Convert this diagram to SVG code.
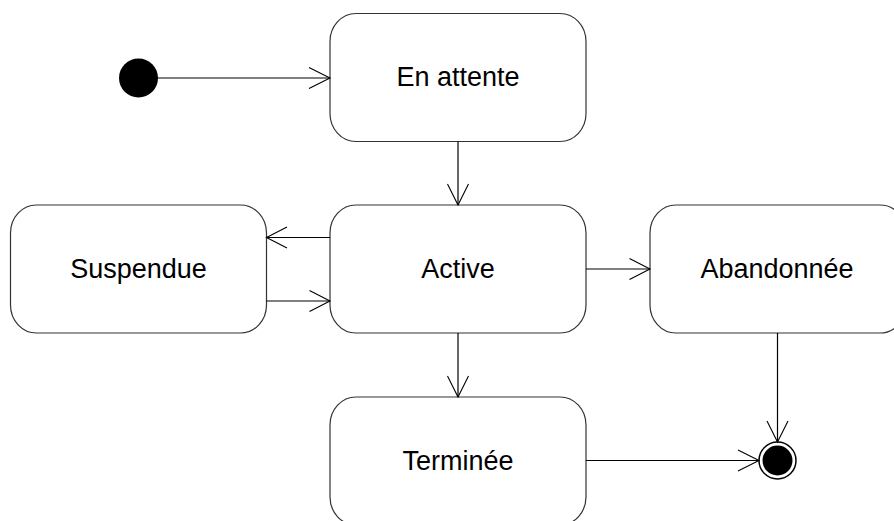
<svg xmlns="http://www.w3.org/2000/svg" width="894" height="521" viewBox="0 0 894 521">
<defs>
<style>
.st rect{fill:#fff;stroke:#333;stroke-width:1.2}
.st text{font-family:"Liberation Sans",Arial,sans-serif;font-size:27px;fill:#000;text-anchor:middle}
.cn line{stroke:#000;stroke-width:1.2;fill:none}
.cn polyline{stroke:#000;stroke-width:1.1;fill:none}
</style>
</defs>
<rect width="894" height="521" fill="#fff"/>
<g id="initial"><circle cx="138.5" cy="78" r="19.5" fill="#000"/></g>
<g id="en-attente" class="st"><rect x="330" y="13.5" width="256" height="128" rx="26" ry="28"/><text x="458" y="86">En attente</text></g>
<g id="suspendue" class="st"><rect x="10.5" y="205" width="256" height="128" rx="26" ry="28"/><text x="138.5" y="278">Suspendue</text></g>
<g id="active" class="st"><rect x="330" y="205" width="256" height="128" rx="26" ry="28"/><text x="458" y="278">Active</text></g>
<g id="abandonnee" class="st"><rect x="650" y="205" width="256" height="128" rx="26" ry="28"/><text x="777" y="278">Abandonnée</text></g>
<g id="terminee" class="st"><rect x="330" y="397" width="256" height="128" rx="26" ry="28"/><text x="458" y="470">Terminée</text></g>
<g id="final"><circle cx="777.5" cy="460.5" r="18.5" fill="#fff" stroke="#000" stroke-width="1.5"/><circle cx="777.5" cy="460.5" r="15" fill="#000"/></g>
<g id="connectors" class="cn">
<line x1="157" y1="78" x2="330" y2="78"/><polyline points="309,67.5 330,78 309,88.5"/>
<line x1="458" y1="141.5" x2="458" y2="205"/><polyline points="447.5,184 458,205 468.5,184"/>
<line x1="330" y1="237.5" x2="266.5" y2="237.5"/><polyline points="287,227 266.5,237.5 287,248"/>
<line x1="266.5" y1="301" x2="330" y2="301"/><polyline points="309.5,290.5 330,301 309.5,311.5"/>
<line x1="586" y1="269" x2="650" y2="269"/><polyline points="629.5,258.5 650,269 629.5,279.5"/>
<line x1="458" y1="333" x2="458" y2="397"/><polyline points="447.5,376 458,397 468.5,376"/>
<line x1="586" y1="460.5" x2="759" y2="460.5"/><polyline points="738,450 759,460.5 738,471"/>
<line x1="777.5" y1="333" x2="777.5" y2="442"/><polyline points="767,421 777.5,442 788,421"/>
</g>
</svg>
